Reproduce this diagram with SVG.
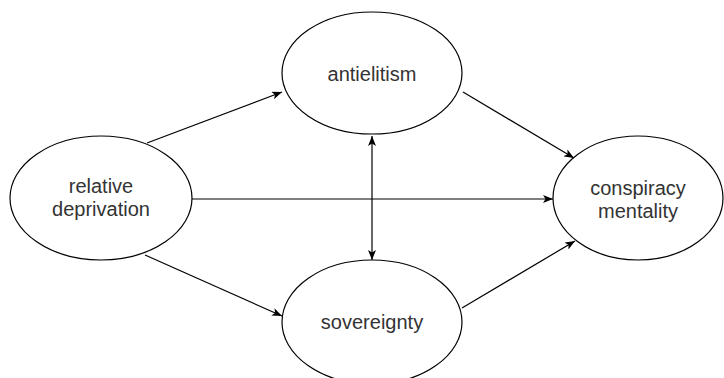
<svg xmlns="http://www.w3.org/2000/svg" width="724" height="378" viewBox="0 0 724 378">
<style>
.node{fill:#ffffff;stroke:#000000;stroke-width:1.2}
.lbl{font-family:"Liberation Sans",Arial,sans-serif;font-size:20px;fill:#333333;text-anchor:middle}
.edge{stroke:#000000;stroke-width:1.2;fill:none}
</style>
<defs>
<marker id="arr" viewBox="0 0 10 8" refX="10" refY="4" markerWidth="10" markerHeight="8" markerUnits="userSpaceOnUse" orient="auto-start-reverse">
<path d="M0,0 L10,4 L0,8 L2.5,4 z" fill="#000000"/>
</marker>
</defs>
<rect width="724" height="378" fill="#ffffff"/>
<g id="connectors">
<line class="edge" x1="147" y1="143" x2="282" y2="92" marker-end="url(#arr)"/>
<line class="edge" x1="145" y1="255" x2="282" y2="316" marker-end="url(#arr)"/>
<line class="edge" x1="192" y1="199" x2="553" y2="199" marker-end="url(#arr)"/>
<line class="edge" x1="463" y1="92" x2="574" y2="158" marker-end="url(#arr)"/>
<line class="edge" x1="462" y1="308" x2="575" y2="241" marker-end="url(#arr)"/>
<line class="edge" x1="372" y1="136" x2="372" y2="260" marker-start="url(#arr)" marker-end="url(#arr)"/>
</g>
<g id="relative-deprivation">
<ellipse class="node" cx="101" cy="198" rx="91" ry="62"/>
<text class="lbl" x="101" y="193">relative</text>
<text class="lbl" x="101" y="216">deprivation</text>
</g>
<g id="antielitism">
<ellipse class="node" cx="372" cy="73" rx="90" ry="61"/>
<text class="lbl" x="372" y="81">antielitism</text>
</g>
<g id="sovereignty">
<ellipse class="node" cx="372" cy="322" rx="90" ry="62"/>
<text class="lbl" x="372" y="329">sovereignty</text>
</g>
<g id="conspiracy-mentality">
<ellipse class="node" cx="638" cy="198" rx="85" ry="62"/>
<text class="lbl" x="638" y="195">conspiracy</text>
<text class="lbl" x="638" y="218">mentality</text>
</g>
</svg>
